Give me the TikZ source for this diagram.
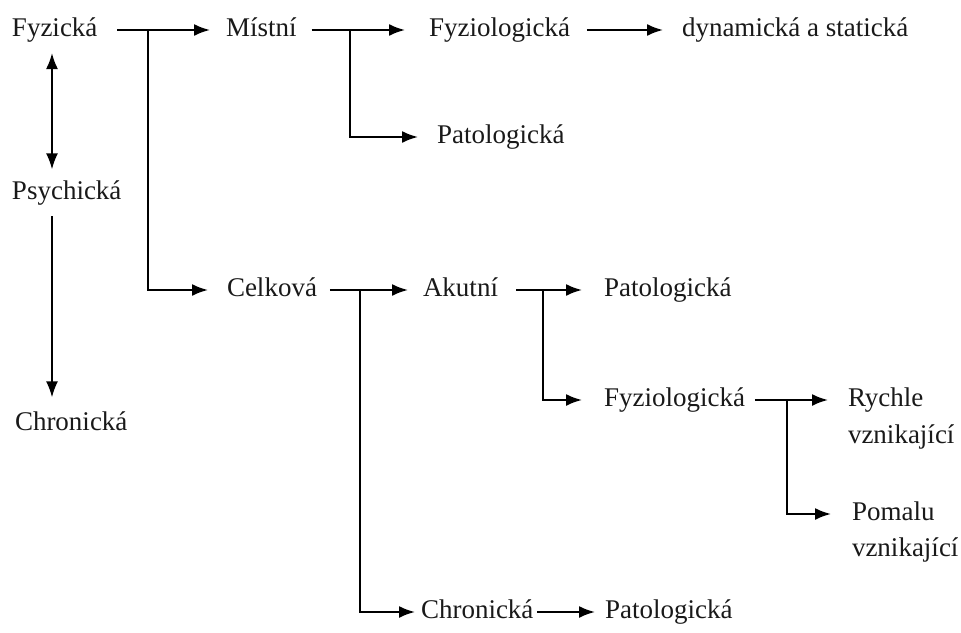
\documentclass[tikz,border=0pt]{standalone}
\usepackage{fontspec}
\setmainfont{Liberation Serif}
\usetikzlibrary{arrows.meta}
\begin{document}
\fontsize{27}{37}\selectfont
\begin{tikzpicture}[x=1pt,y=-1pt,
  lbl/.style={inner sep=0pt, outer sep=0pt, anchor=mid west, font=\fontsize{27}{37}\selectfont, text=black!90},
  conn/.style={line width=2pt, -{Latex[length=16pt,width=12pt]}},
  dconn/.style={line width=2pt, {Latex[length=16pt,width=12pt]}-{Latex[length=16pt,width=12pt]}}]
\useasboundingbox (0,0) rectangle (961,632);
% nodes
\node[lbl] (fyz)  at (12,30)  {Fyzická};
\node[lbl] (mis)  at (226,30) {Místní};
\node[lbl] (fyz2) at (429,30) {Fyziologická};
\node[lbl] (dyn)  at (682,30) {dynamická a statická};
\node[lbl] (pat1) at (437,137) {Patologická};
\node[lbl] (psy)  at (12,193) {Psychická};
\node[lbl] (chr1) at (15,424) {Chronická};
\node[lbl] (cel)  at (227,290) {Celková};
\node[lbl] (aku)  at (423,290) {Akutní};
\node[lbl] (pat2) at (604,290) {Patologická};
\node[lbl] (fyz3) at (604,400) {Fyziologická};
\node[lbl] (ry)   at (848,400) {Rychle};
\node[lbl] (ryb)  at (848,437) {vznikající};
\node[lbl] (pom)  at (852,514) {Pomalu};
\node[lbl] (pomb) at (852,550) {vznikající};
\node[lbl] (chr2) at (421,612) {Chronická};
\node[lbl] (pat3) at (605,612) {Patologická};
% junctions
\coordinate (lx) at (52,0);
\coordinate (j1) at (148,30);
\coordinate (j2) at (350,30);
\coordinate (j3) at (360,290);
\coordinate (j4) at (543,290);
\coordinate (j5) at (787,400);
% connectors
\draw[dconn, shorten <=11pt, shorten >=11pt] (fyz.south -| lx) -- (psy.north -| lx);
\draw[conn, shorten <=11pt, shorten >=14pt] (psy.south -| lx) -- (chr1.north -| lx);
\draw[conn, shorten <=20pt, shorten >=16pt] (fyz.mid east) -- (mis.mid west);
\draw[conn, shorten >=19pt] (j1) |- (cel.mid west);
\draw[conn, shorten <=15pt, shorten >=24pt] (mis.mid east) -- (fyz2.mid west);
\draw[conn, shorten >=19pt] (j2) |- (pat1.mid west);
\draw[conn, shorten <=17pt, shorten >=19pt] (fyz2.mid east) -- (dyn.mid west);
\draw[conn, shorten <=13pt, shorten >=15pt] (cel.mid east) -- (aku.mid west);
\draw[conn, shorten >=6pt] (j3) |- (chr2.mid west);
\draw[conn, shorten <=18pt, shorten >=22pt] (aku.mid east) -- (pat2.mid west);
\draw[conn, shorten >=22pt] (j4) |- (fyz3.mid west);
\draw[conn, shorten <=10pt, shorten >=20pt] (fyz3.mid east) -- (ry.mid west);
\draw[conn, shorten >=21pt] (j5) |- (pom.mid west);
\draw[conn, shorten <=4pt, shorten >=10pt] (chr2.mid east) -- (pat3.mid west);
\end{tikzpicture}
\end{document}
